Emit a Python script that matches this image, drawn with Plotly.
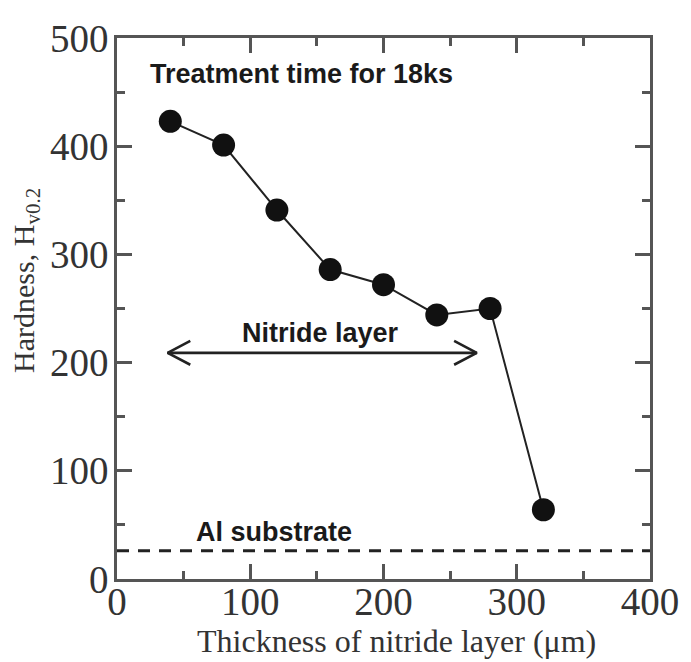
import plotly.graph_objects as go

# Data
thickness = [40, 80, 120, 160, 200, 240, 280, 320]
hardness = [423, 401, 341, 286, 272, 244, 250, 64]

al_substrate_hv = 26
nitride_span = [38, 270]
nitride_arrow_y = 209

x_ticks = [0, 100, 200, 300, 400]
y_ticks = [0, 100, 200, 300, 400, 500]

# arrow head size in data units
head_dx = 17
head_dy = 11

fig = go.Figure()

# Al substrate dashed line
fig.add_trace(go.Scatter(
    x=[0, 400], y=[al_substrate_hv, al_substrate_hv], mode="lines",
    line=dict(color="#222", width=3, dash="12px,9px"), hoverinfo="skip", showlegend=False))

# Nitride layer double arrow
x0, x1 = nitride_span
yy = nitride_arrow_y
fig.add_trace(go.Scatter(
    x=[x0, x1, None, x0 + head_dx, x0, x0 + head_dx, None, x1 - head_dx, x1, x1 - head_dx],
    y=[yy, yy, None, yy + head_dy, yy, yy - head_dy, None, yy + head_dy, yy, yy - head_dy],
    mode="lines", line=dict(color="#222", width=2.6), hoverinfo="skip", showlegend=False))

# Main series
fig.add_trace(go.Scatter(
    x=thickness, y=hardness, mode="lines+markers",
    line=dict(color="#222", width=2),
    marker=dict(color="#111", size=23),
    showlegend=False))

ann_font = dict(family="Liberation Sans, Arial, sans-serif", size=27, color="#1a1a1a")
fig.add_annotation(x=23, y=467, xref="x", yref="y", text="<b>Treatment time for 18ks</b>",
                   showarrow=False, xanchor="left", yanchor="middle", font=ann_font)
fig.add_annotation(x=152.5, y=227, xref="x", yref="y", text="<b>Nitride layer</b>",
                   showarrow=False, xanchor="center", yanchor="middle", font=ann_font)
fig.add_annotation(x=118, y=43, xref="x", yref="y", text="<b>Al substrate</b>",
                   showarrow=False, xanchor="center", yanchor="middle", font=ann_font)

# Axis titles
serif = "Liberation Serif, Times New Roman, serif"
fig.add_annotation(x=0.525, y=-0.1516, xref="paper", yref="paper",
                   text="Thickness of nitride layer (μm)", showarrow=False,
                   xanchor="center", yanchor="bottom", font=dict(family=serif, size=32, color="#333"))
fig.add_annotation(x=-0.1707, y=0.551, xref="paper", yref="paper",
                   text="Hardness, H<sub>v0.2</sub>", showarrow=False, textangle=-90,
                   xanchor="center", yanchor="middle", font=dict(family=serif, size=30, color="#333"))

line_style = dict(linecolor="#555", linewidth=2.5, ticks="inside", ticklen=15,
                  tickwidth=2.5, tickcolor="#555", showgrid=False, zeroline=False)
minor_style = dict(dtick=50, tick0=0, ticks="inside", ticklen=8, tickwidth=2.5, tickcolor="#555")
tickfont = dict(family=serif, size=39, color="#333")

fig.update_layout(
    width=691, height=662,
    margin=dict(l=117, r=35, t=38, b=83),
    plot_bgcolor="white", paper_bgcolor="white",
    showlegend=False,
    xaxis=dict(range=[0, 400], tickvals=x_ticks, showline=True, minor=minor_style,
               tickfont=tickfont, ticklabelstandoff=-14, **line_style),
    yaxis=dict(range=[0, 500], tickvals=y_ticks, showline=True, minor=minor_style,
               tickfont=tickfont, ticklabelstandoff=-2, **line_style),
    xaxis2=dict(range=[0, 400], tickvals=x_ticks, overlaying="x", side="top", anchor="y",
                showline=True, showticklabels=False, minor=minor_style, **line_style),
    yaxis2=dict(range=[0, 500], tickvals=y_ticks, overlaying="y", side="right", anchor="x",
                showline=True, showticklabels=False, minor=minor_style, **line_style),
)

# invisible trace to activate the mirrored top/right axes
fig.add_trace(go.Scatter(x=[None], y=[None], xaxis="x2", yaxis="y2",
                         mode="markers", hoverinfo="skip", showlegend=False))

fig.write_html("out.html")
